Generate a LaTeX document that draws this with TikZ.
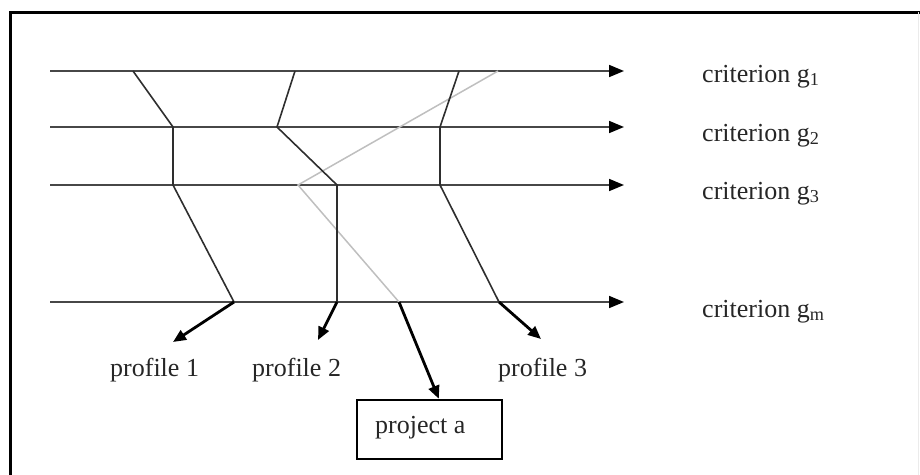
\documentclass[tikz,border=0pt]{standalone}
\usepackage{fontspec}
\setmainfont{Liberation Serif}
\usetikzlibrary{arrows.meta}
\begin{document}
\begin{tikzpicture}[x=1pt,y=-1pt,
  axis/.style={line width=1.7pt,draw=black!72,-{Triangle[length=15pt,width=12pt,color=black]}},
  prof/.style={line width=1.6pt,draw=black!82,line join=miter},
  proj/.style={line width=1.5pt,draw=black!25},
  pick/.style={line width=2.8pt,draw=black,-{Triangle[length=13pt,width=11pt]}},
  lbl/.style={font=\fontsize{26}{30}\selectfont,text=black!85,inner sep=0pt},
  boxed/.style={draw=black,line width=1.6pt,minimum width=145pt,minimum height=59pt,inner sep=0pt}]
\useasboundingbox (0,0) rectangle (920,474);
% outer frame (bottom edge lies below the page)
\draw[line width=3pt,black] (10,490) -- (10,12) -- (925,12);
\draw[line width=0.6pt,black!8] (918,12) -- (918,490);

% criterion axes
\foreach \n/\y in {1/71,2/127,3/185,m/302}{
  \coordinate (s\n) at (50,\y);
  \coordinate (e\n) at (624,\y);
  \draw[axis] (s\n) -- (e\n);
}
\node[lbl,anchor=base west] (c1) at (702,82) {criterion g\textsubscript{1}};
\node[lbl,anchor=base west] (c2) at (702,141) {criterion g\textsubscript{2}};
\node[lbl,anchor=base west] (c3) at (702,199) {criterion g\textsubscript{3}};
\node[lbl,anchor=base west] (cm) at (702,317) {criterion g\textsubscript{m}};

% profile 1
\coordinate (a1) at (133,71); \coordinate (a2) at (173,127);
\coordinate (a3) at (173,185); \coordinate (am) at (234,302);
% profile 2
\coordinate (b1) at (295,71); \coordinate (b2) at (277,127);
\coordinate (b3) at (337,185); \coordinate (bm) at (337,302);
% profile 3
\coordinate (d1) at (459,71); \coordinate (d2) at (440,127);
\coordinate (d3) at (440,185); \coordinate (dm) at (499,302);
% project a
\coordinate (p1) at (498,71); \coordinate (p3) at (298,185);
\coordinate (pm) at (399,302);

\draw[proj] (p1) -- (p3) -- (pm);
\draw[prof] (a1) -- (a2) -- (a3) -- (am);
\draw[prof] (b1) -- (b2) -- (b3) -- (bm);
\draw[prof] (d1) -- (d2) -- (d3) -- (dm);

% profile labels
\node[lbl,anchor=base west] (l1) at (110,376) {profile 1};
\node[lbl,anchor=base west] (l2) at (252,376) {profile 2};
\node[lbl,anchor=base west] (l3) at (498,376) {profile 3};
\node[lbl,boxed] (pa) at (429.5,429.5) {};
\node[lbl,anchor=base west] (pat) at (375,433) {project a};

\coordinate (t1) at (173,342);
\coordinate (t2) at (318,340);
\coordinate (t3) at (541,339);
\draw[pick] (am) -- (t1);
\draw[pick] (bm) -- (t2);
\draw[pick] (dm) -- (t3);
\draw[pick,shorten >=0.5pt] (pm) -- (pa.north -| 439,0);
\end{tikzpicture}
\end{document}
